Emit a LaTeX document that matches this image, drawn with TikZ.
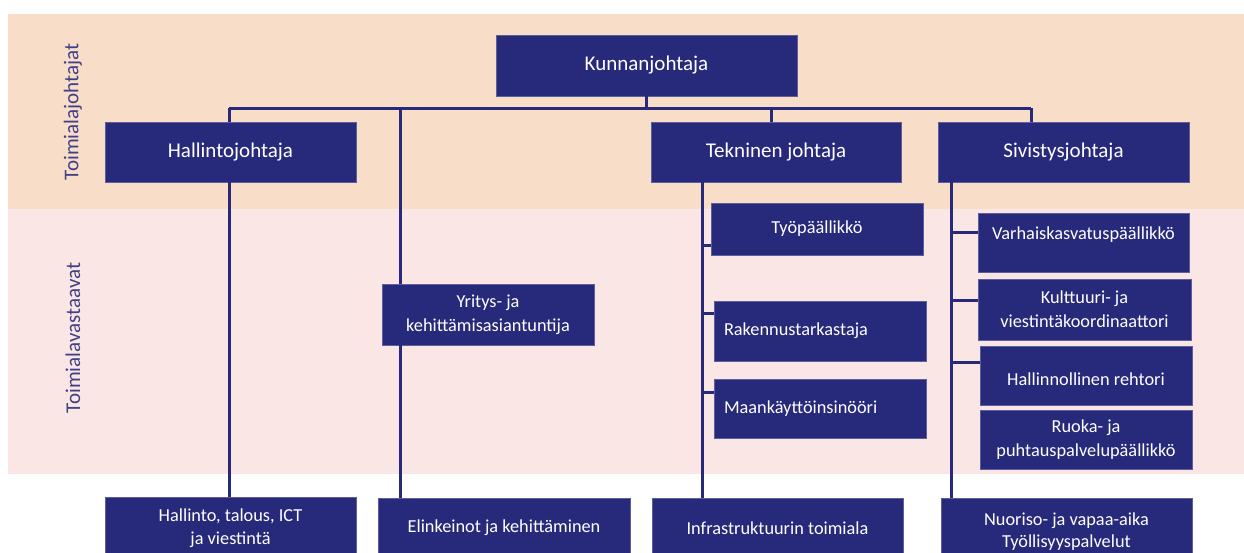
\documentclass[tikz,border=0pt]{standalone}
\usepackage{fontspec}
\setmainfont{Carlito}
\definecolor{navy}{HTML}{272A7A}
\definecolor{navyedge}{HTML}{5C5E9E}
\definecolor{peach}{HTML}{F8DDC8}
\definecolor{pinkbg}{HTML}{FBE6E6}
\definecolor{lbl}{HTML}{3F4186}
\tikzset{
  box/.style={fill=navy, draw=navyedge, line width=0.6pt, text=white, inner sep=0pt, align=center},
  mainbox/.style={box, font=\fontsize{21}{25}\selectfont},
  subbox/.style={box, font=\fontsize{18.3}{24}\selectfont},
  txt/.style={text=white, inner sep=0pt, align=center, font=\fontsize{18.3}{24}\selectfont},
  conn/.style={draw=navy, line width=3pt},
  sidelbl/.style={rotate=90, text=lbl, font=\fontsize{21}{25}\selectfont, inner sep=0pt}
}
\begin{document}
\begin{tikzpicture}[x=1pt,y=-1pt]
\useasboundingbox (0,0) rectangle (1244,552);
\clip (0,0) rectangle (1244,552);
\fill[white] (0,0) rectangle (1244,552);
\fill[peach] (8,14) rectangle (1244,209);
\fill[pinkbg] (8,209) rectangle (1244,474);

\node[sidelbl] (l1) at (73,112) {Toimialajohtajat};
\node[sidelbl] (l2) at (73,338) {Toimialavastaavat};

% bus coordinates
\coordinate (busH) at (229,108);
\coordinate (busY) at (400,108);
\coordinate (busT) at (771,108);
\coordinate (busS) at (1031,108);
\coordinate (dH) at (229,0);
\coordinate (dY) at (400,0);
\coordinate (dT) at (702,0);
\coordinate (dS) at (951,0);

% boxes
\node[mainbox, minimum width=301pt, minimum height=61pt] (k) at (646.5,65.5) {Kunnanjohtaja};
\node[mainbox, minimum width=251pt, minimum height=60pt] (hj) at (230.5,152) {Hallintojohtaja};
\node[mainbox, minimum width=250pt, minimum height=60pt] (tj) at (776,152) {Tekninen johtaja};
\node[mainbox, minimum width=251pt, minimum height=60pt] (sj) at (1063.5,152) {Sivistysjohtaja};

\node[subbox, minimum width=212pt, minimum height=61pt] (yr) at (488,314.5) {Yritys- ja\\kehittämisasiantuntija};

\node[subbox, minimum width=212pt, minimum height=52pt] (tp) at (817,229) {Työpäällikkö};
\node[subbox, minimum width=212pt, minimum height=60pt, text width=192pt, align=left] (rk) at (820,331) {Rakennustarkastaja};
\node[subbox, minimum width=212pt, minimum height=59pt, text width=192pt, align=left] (mk) at (820,408.5) {Maankäyttöinsinööri};

\node[subbox, minimum width=211pt, minimum height=59pt] (vk) at (1083.5,242.5) {};
\node[txt] (vkt) at (1083.5,235) {Varhaiskasvatuspäällikkö};
\node[subbox, minimum width=213pt, minimum height=61pt] (ku) at (1084.5,309.5) {Kulttuuri- ja\\viestintäkoordinaattori};
\node[subbox, minimum width=212pt, minimum height=59pt] (hr) at (1086,375.5) {};
\node[txt] (hrt) at (1086,379) {Hallinnollinen rehtori};
\node[subbox, minimum width=212pt, minimum height=59pt] (ru) at (1086,439.5) {Ruoka- ja\\puhtauspalvelupäällikkö};

\node[subbox, minimum width=251pt, minimum height=62pt, font=\fontsize{18.3}{23}\selectfont] (b1) at (230.5,528) {Hallinto, talous, ICT\\ja viestintä};
\node[subbox, minimum width=252pt, minimum height=60pt] (b2) at (504,528) {Elinkeinot ja kehittäminen};
\node[subbox, minimum width=251pt, minimum height=60pt] (b3) at (777.5,528) {Infrastruktuurin toimiala};
\node[subbox, minimum width=251pt, minimum height=68pt, font=\fontsize{18.3}{22}\selectfont] (b4) at (1066.5,532) {Nuoriso- ja vapaa-aika\\Työllisyyspalvelut};

% bus
\draw[conn] (busH) -- (busS);
\draw[conn] (k.south) -- (k.south |- busH);

% vertical drops from bus
\draw[conn] (busH) -- (busH |- hj.north);
\draw[conn] (busY) -- (busY |- yr.north);
\draw[conn] (busT) -- (busT |- tj.north);
\draw[conn] (busS) -- (busS |- sj.north);

% long vertical lines
\draw[conn] (dH |- hj.south) -- (dH |- b1.north);
\draw[conn] (dY |- yr.south) -- (dY |- b2.north);
\draw[conn] (dT |- tj.south) -- (dT |- b3.north);
\draw[conn] (dS |- sj.south) -- (dS |- b4.north);

% branches
\draw[conn] (dT |- 0,245) -- (tp.west |- 0,245);
\draw[conn] (dT |- 0,313) -- (rk.west |- 0,313);
\draw[conn] (dT |- 0,392) -- (mk.west |- 0,392);
\draw[conn] (dS |- 0,232) -- (vk.west |- 0,232);
\draw[conn] (dS |- 0,300) -- (ku.west |- 0,300);
\draw[conn] (dS |- 0,362) -- (hr.west |- 0,362);
\end{tikzpicture}
\end{document}
